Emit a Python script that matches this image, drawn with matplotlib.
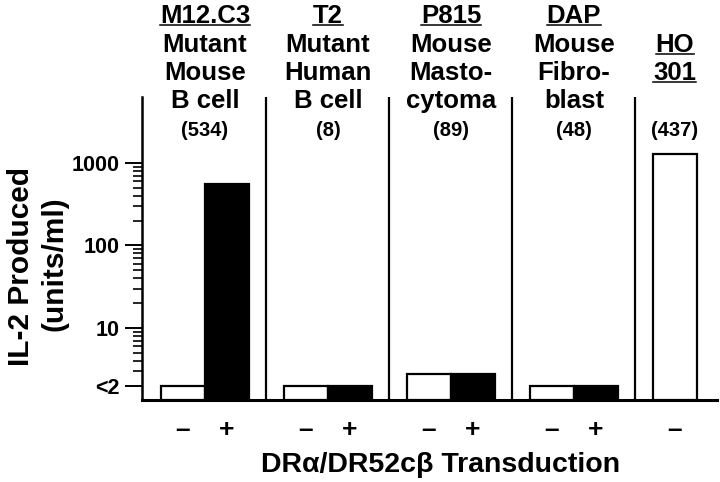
import matplotlib
matplotlib.use('Agg')
import matplotlib.pyplot as plt
import numpy as np
from matplotlib.lines import Line2D
from matplotlib.ticker import FixedLocator, FixedFormatter, NullFormatter
import matplotlib.transforms as mtransforms

plt.rcParams['font.family'] = ['Liberation Sans', 'DejaVu Sans']
plt.rcParams['font.weight'] = 'bold'

# ---- data ----
header_lines = [
    ['M12.C3', 'Mutant', 'Mouse', 'B cell'],
    ['T2', 'Mutant', 'Human', 'B cell'],
    ['P815', 'Mouse', 'Masto-', 'cytoma'],
    ['DAP', 'Mouse', 'Fibro-', 'blast'],
    ['', 'HO', '301', ''],
]
underlined = [
    [True, False, False, False],
    [True, False, False, False],
    [True, False, False, False],
    [True, False, False, False],
    [False, True, True, False],
]
paren_labels = ['(534)', '(8)', '(89)', '(48)', '(437)']
minus_values = [2, 2, 2.8, 2, 1300]
plus_values = [550, 2, 2.8, 2, np.nan]
ytick_values = [2, 10, 100, 1000]
ytick_labels = ['<2', '10', '100', '1000']
xlabel = 'DR\u03b1/DR52c\u03b2 Transduction'
ylabel_lines = ['IL-2 Produced', '(units/ml)']

W, H = 720, 482
fig = plt.figure(figsize=(W / 100, H / 100), dpi=100)
ax = fig.add_axes([142 / W, 1 - 400 / H, (717 - 142) / W, (400 - 97) / H])

ymin, ymax = 1.34, 6300
ax.set_yscale('log')
ax.set_ylim(ymin, ymax)
ax.set_xlim(-0.512, 4.163)

bw = 0.36
n = len(minus_values)
x = np.arange(n)
lw = 1.6
for i in range(n):
    v = minus_values[i]
    ax.bar(x[i] - bw / 2, v - ymin, bottom=ymin, width=bw, color='white',
           edgecolor='black', linewidth=lw, zorder=3)
    pv = plus_values[i]
    if not np.isnan(pv):
        ax.bar(x[i] + bw / 2, pv - ymin, bottom=ymin, width=bw, color='black',
               edgecolor='black', linewidth=lw, zorder=3)

# dividers
for i in range(n - 1):
    ax.axvline(i + 0.5, color='black', linewidth=lw, zorder=2)

for s in ['top', 'right']:
    ax.spines[s].set_visible(False)
ax.spines['left'].set_linewidth(1.8)
ax.spines['bottom'].set_linewidth(2.2)
ax.set_xticks([])

ax.yaxis.set_major_locator(FixedLocator(ytick_values))
ax.yaxis.set_major_formatter(FixedFormatter(ytick_labels))
minor = [m * 10 ** d for d in range(0, 3) for m in range(2, 10)]
minor = [m for m in minor if m > 2 and m < 1000 and m not in ytick_values]
ax.yaxis.set_minor_locator(FixedLocator(minor))
ax.yaxis.set_minor_formatter(NullFormatter())
ax.tick_params(axis='y', which='major', length=12, width=1.4, pad=4, labelsize=15.5)
ax.tick_params(axis='y', which='minor', length=6.5, width=1.2)
for t in ax.get_yticklabels():
    t.set_fontweight('bold')

trans = mtransforms.blended_transform_factory(ax.transData, fig.transFigure)
baselines = [23, 52, 80, 108]
head_x = [0, 1, 2, 3, 4 - bw / 2]
texts_to_underline = []
for i in range(n):
    for j, line in enumerate(header_lines[i]):
        if not line:
            continue
        t = ax.text(head_x[i], 1 - baselines[j] / H, line, transform=trans,
                    ha='center', va='baseline', fontsize=18.5, fontweight='bold',
                    clip_on=False)
        if underlined[i][j]:
            texts_to_underline.append((t, baselines[j]))
    ax.text(head_x[i], 1 - 136 / H, paren_labels[i], transform=trans,
            ha='center', va='baseline', fontsize=14.5, fontweight='bold', clip_on=False)

# +/- labels
for i in range(n):
    ax.text(x[i] - bw / 2, 1 - 430 / H, '\u2013', transform=trans, ha='center',
            va='center', fontsize=19, fontweight='bold', clip_on=False)
    if not np.isnan(plus_values[i]):
        ax.text(x[i] + bw / 2, 1 - 430 / H, '+', transform=trans, ha='center',
                va='center', fontsize=19, fontweight='bold', clip_on=False)

fig.text(441 / W, 1 - 465 / H, xlabel, ha='center', va='center', fontsize=20.5,
         fontweight='bold')
fig.text(21 / W, 1 - 267 / H, ylabel_lines[0], rotation=90, ha='center',
         va='center', fontsize=21.5, fontweight='bold')
fig.text(55 / W, 1 - 264 / H, ylabel_lines[1], rotation=90, ha='center',
         va='center', fontsize=21.5, fontweight='bold')

fig.canvas.draw()
renderer = fig.canvas.get_renderer()
for t, b in texts_to_underline:
    bb = t.get_window_extent(renderer)
    yl = 1 - (b + 2) / H
    fig.add_artist(Line2D([bb.x0 / W, bb.x1 / W], [yl, yl], transform=fig.transFigure,
                          color='black', linewidth=1.1))

fig.savefig('out.png', dpi=100)
